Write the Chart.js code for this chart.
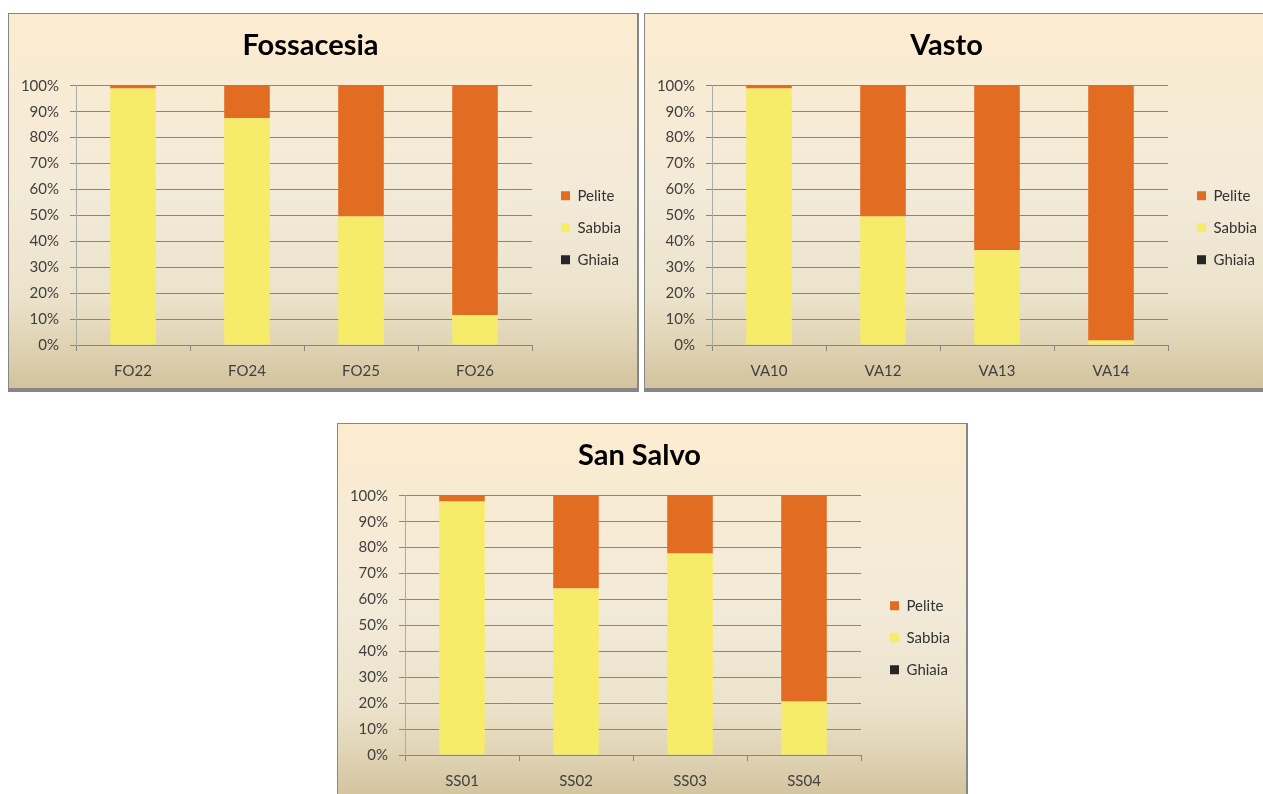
<!DOCTYPE html>
<html>
<head>
<meta charset="utf-8">
<script src="https://cdn.jsdelivr.net/npm/chart.js@4.4.1/dist/chart.umd.min.js"></script>
<style>
  html, body { margin: 0; padding: 0; background: #fff; }
  body { position: relative; width: 1263px; height: 794px; overflow: hidden; }
  .box {
    position: absolute;
    width: 631px; height: 379px;
    box-sizing: border-box;
    border-style: solid;
    border-color: #868686;
    border-width: 1px 2px 4px 1px;
    background: linear-gradient(to bottom, #fcebcf 0%, #f8ebd4 20%, #f2ead8 50%, #ece3cc 75%, #e0d4b5 88%, #d3c39d 100%);
  }
  .inner { position: relative; width: 628px; height: 374px; }
</style>
</head>
<body>
<div class="box" style="left:8px; top:13px;"><div class="inner"><canvas id="chartFO"></canvas></div></div>
<div class="box" style="left:644px; top:13px;"><div class="inner"><canvas id="chartVA"></canvas></div></div>
<div class="box" style="left:337px; top:423px;"><div class="inner"><canvas id="chartSS"></canvas></div></div>

<script>
// series names (stack order bottom -> top)
var seriesNames = ['Ghiaia', 'Sabbia', 'Pelite'];
var seriesColors = ['#262626', '#f6ec6a', '#e36c23'];

// Fossacesia
var categoriesFO = ['FO22', 'FO24', 'FO25', 'FO26'];
var ghiaiaFO = [0, 0, 0, 0];
var sabbiaFO = [99, 87.5, 49.6, 11.6];
var peliteFO = [1, 12.5, 50.4, 88.4];

// Vasto
var categoriesVA = ['VA10', 'VA12', 'VA13', 'VA14'];
var ghiaiaVA = [0, 0, 0, 0];
var sabbiaVA = [99, 49.6, 36.6, 1.7];
var peliteVA = [1, 50.4, 63.4, 98.3];

// San Salvo
var categoriesSS = ['SS01', 'SS02', 'SS03', 'SS04'];
var ghiaiaSS = [0, 0, 0, 0];
var sabbiaSS = [97.8, 64.2, 77.7, 20.6];
var peliteSS = [2.2, 35.8, 22.3, 79.4];

var fontFamily = 'Lato, "Open Sans", sans-serif';

// move the legend next to the plot like in the Excel original
var legendSpot = {
    id: 'legendSpot',
    afterLayout: function(chart) {
        var lg = chart.legend;
        var area = chart.chartArea;
        var pad = lg.options.labels.padding;
        var dx = area.right + 29 - pad - lg.left;
        var dy = area.top + 110 - pad - 7.5 - lg.top;
        lg.left += dx; lg.right += dx;
        lg.top += dy; lg.bottom += dy;
    }
};

function makeChart(id, title, categories, ghiaia, sabbia, pelite) {
    var values = [ghiaia, sabbia, pelite];
    var ctx = document.getElementById(id).getContext('2d');
    return new Chart(ctx, {
        type: 'bar',
        data: {
            labels: categories,
            datasets: seriesNames.map(function(name, i) {
                return {
                    label: name,
                    data: values[i],
                    backgroundColor: seriesColors[i],
                    borderWidth: 0,
                    categoryPercentage: 1,
                    barPercentage: 0.4
                };
            })
        },
        options: {
            responsive: true,
            maintainAspectRatio: false,
            animation: false,
            layout: { padding: { left: 0, right: 25, top: 0, bottom: 8 } },
            scales: {
                x: {
                    stacked: true,
                    afterFit: function(scale) { scale.height = 35; },
                    grid: {
                        offset: true,
                        drawOnChartArea: false,
                        drawTicks: true,
                        tickLength: 6,
                        color: '#868686'
                    },
                    border: { color: '#868686' },
                    ticks: {
                        padding: 11,
                        color: '#404040',
                        font: { family: fontFamily, size: 15 }
                    }
                },
                y: {
                    stacked: true,
                    min: 0,
                    max: 100,
                    afterFit: function(scale) { scale.width = 67; },
                    grid: {
                        color: '#868686',
                        tickLength: 6
                    },
                    border: { color: '#aaaaaa' },
                    ticks: {
                        stepSize: 10,
                        padding: 11,
                        color: '#404040',
                        font: { family: fontFamily, size: 15 },
                        callback: function(v) { return v + '%'; }
                    }
                }
            },
            plugins: {
                title: {
                    display: true,
                    text: title,
                    color: '#000',
                    font: { family: fontFamily, size: 29, weight: 'bold' },
                    padding: { top: 14, bottom: 23 }
                },
                legend: {
                    position: 'right',
                    align: 'start',
                    reverse: true,
                    maxWidth: 80,
                    labels: {
                        boxWidth: 9,
                        boxHeight: 9,
                        padding: 17,
                        color: '#333',
                        font: { family: fontFamily, size: 15 }
                    }
                },
                tooltip: { enabled: false }
            }
        },
        plugins: [legendSpot]
    });
}

makeChart('chartFO', 'Fossacesia', categoriesFO, ghiaiaFO, sabbiaFO, peliteFO);
makeChart('chartVA', 'Vasto', categoriesVA, ghiaiaVA, sabbiaVA, peliteVA);
makeChart('chartSS', 'San Salvo', categoriesSS, ghiaiaSS, sabbiaSS, peliteSS);
</script>
</body>
</html>
